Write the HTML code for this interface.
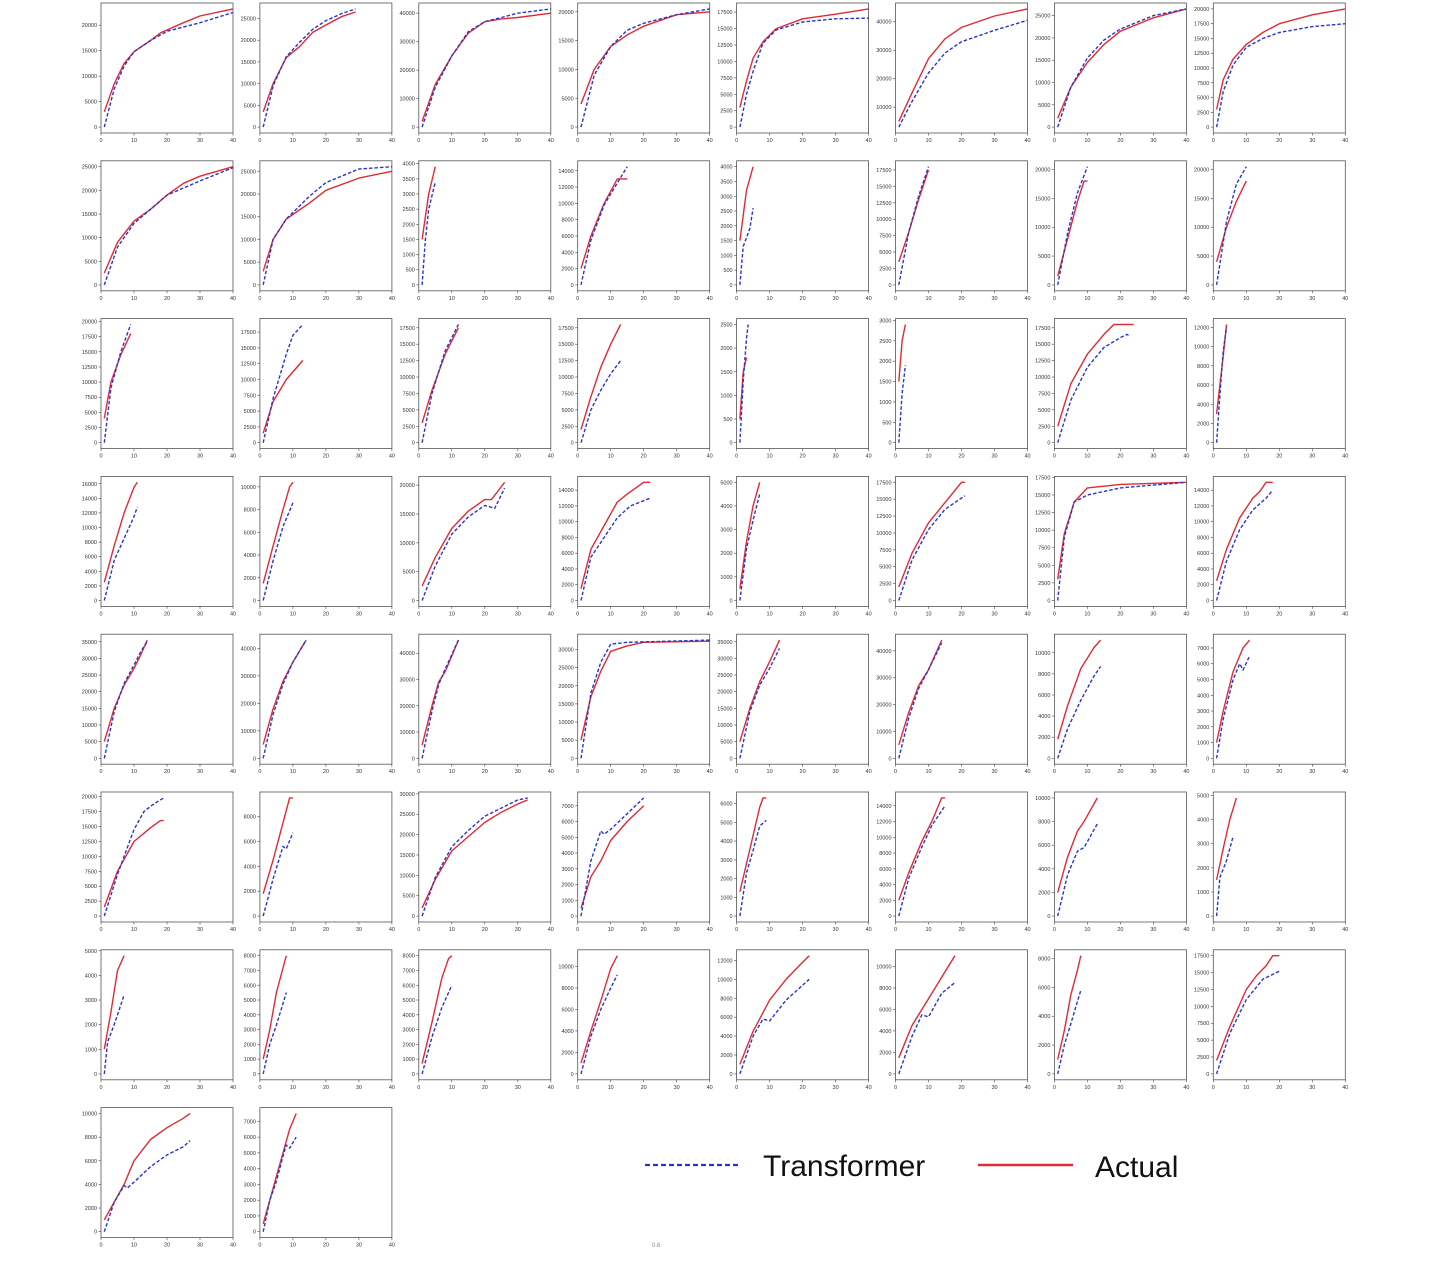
<!DOCTYPE html>
<html><head><meta charset="utf-8"><style>
body{margin:0;background:#fff;}
svg{display:block;font-family:"Liberation Sans",sans-serif;}
</style></head><body>
<svg id="chart" width="1430" height="1280" viewBox="0 0 1430 1280" xmlns="http://www.w3.org/2000/svg">
<g id="plots"></g>
<g>
  <line x1="645" y1="1165" x2="740" y2="1165" stroke="#2a35c8" stroke-width="2.2" stroke-dasharray="5,3"/>
  <text x="763" y="1176" font-size="30" fill="#111">Transformer</text>
  <line x1="978" y1="1165" x2="1073" y2="1165" stroke="#e02a35" stroke-width="2.6"/>
  <text x="1095" y="1177" font-size="30" fill="#111">Actual</text>
  <text x="652" y="1247" font-size="6" fill="#888">0.6</text>
</g>
</svg>
<script>
const xTicks = [0,10,20,30,40];
const yTickStep = [5000,5000,10000,5000,2500,10000,5000,2500,
 5000,5000,500,2000,500,2500,5000,5000,
 2500,2500,2500,2500,500,500,2500,2000,
 2000,2000,5000,2000,1000,2500,2500,2000,
 5000,10000,10000,5000,5000,10000,2000,1000,
 2500,2000,5000,1000,1000,2000,2000,1000,
 1000,1000,1000,2000,2000,2000,2000,2500,
 2000,1000];
const actualSeries = [
[[1,3000],[4,8500],[7,12500],[10,14800],[15,17000],[18,18500],[25,20500],[30,21800],[40,23200]],
[[1,3500],[4,10000],[8,16000],[12,18500],[16,21800],[20,23500],[25,25500],[29,26500]],
[[1,2000],[5,15000],[10,25000],[15,33000],[20,37000],[25,38000],[30,38500],[40,40000]],
[[1,4000],[5,10000],[10,14000],[15,16000],[20,17500],[30,19500],[40,20000]],
[[1,3000],[3,7000],[5,10500],[8,13000],[12,15000],[20,16500],[30,17200],[40,18000]],
[[1,5000],[5,15000],[10,27000],[15,34000],[20,38000],[30,42000],[40,44500]],
[[1,2000],[5,9000],[10,14500],[15,18500],[20,21500],[30,24500],[40,26500]],
[[1,3000],[3,8000],[6,11500],[10,14000],[15,16000],[20,17500],[30,19000],[40,20000]],
[[1,2500],[5,9000],[10,13500],[15,16000],[20,19000],[25,21500],[30,23000],[40,25000]],
[[1,3000],[4,10000],[8,14500],[15,18000],[20,20800],[30,23500],[40,25000]],
[[1,1500],[3,3000],[5,3900]],
[[1,2000],[4,6000],[8,10000],[12,13000],[15,13000]],
[[1,1500],[3,3200],[5,4000]],
[[1,3500],[4,8000],[7,13000],[10,17500]],
[[1,1500],[4,8000],[7,14500],[9,18000],[10,18000]],
[[1,4000],[4,10000],[7,14500],[10,18000]],
[[1,4000],[3,10000],[6,14500],[9,18000]],
[[1,1500],[4,6500],[8,10000],[13,13000]],
[[1,3000],[4,8000],[8,13500],[12,17500]],
[[1,2000],[4,7000],[7,11500],[10,15000],[13,18000]],
[[1,500],[2,1500],[3,1800]],
[[1,1500],[2,2500],[3,2900]],
[[1,2500],[5,9000],[10,13500],[15,16500],[18,18000],[24,18000]],
[[1,3000],[3,9000],[4,12300]],
[[1,2500],[4,7500],[7,12000],[10,15500],[11,16200]],
[[1,1500],[4,4800],[7,8000],[9,10000],[10,10400]],
[[1,2500],[5,7500],[10,12500],[15,15500],[20,17500],[22,17500],[24,19000],[26,20500]],
[[1,1500],[4,6500],[8,9500],[12,12500],[15,13500],[20,15000],[22,15000]],
[[1,500],[3,2500],[5,4000],[7,5000]],
[[1,2000],[5,7000],[10,11500],[15,14500],[20,17500],[21,17500]],
[[1,3000],[3,9500],[6,14000],[10,16000],[20,16500],[40,16800]],
[[1,2500],[4,6500],[8,10500],[12,13000],[14,13800],[16,15000],[18,15000]],
[[1,5000],[4,15000],[7,22000],[10,27000],[12,31000],[14,35500]],
[[1,5000],[4,18000],[7,28000],[10,35000],[14,43000]],
[[1,5000],[4,20000],[6,29000],[8,33000],[12,45000]],
[[1,5000],[4,17000],[7,24000],[10,29500],[15,31000],[20,32000],[40,32300]],
[[1,5000],[4,15000],[7,23000],[10,29000],[13,35500]],
[[1,5000],[4,17000],[7,27000],[10,33000],[14,44000]],
[[1,1800],[4,5000],[8,8500],[12,10500],[14,11200]],
[[1,1000],[3,3000],[6,5500],[9,7000],[11,7500]],
[[1,1500],[5,7500],[10,12500],[15,14800],[18,16000],[19,16000]],
[[1,1800],[4,4500],[7,7500],[9,9500],[10,9500]],
[[1,2000],[5,9000],[10,16000],[15,19500],[20,23000],[25,25500],[30,27500],[33,28500]],
[[1,500],[4,2500],[7,3500],[10,4800],[15,6000],[20,7000]],
[[1,1300],[3,2800],[5,4300],[7,5800],[8,6300],[9,6300]],
[[1,2000],[4,5500],[8,9500],[11,12000],[14,15000],[15,15000]],
[[1,2000],[4,5000],[7,7200],[9,8000],[11,9000],[13,10000]],
[[1,1500],[3,2800],[5,4000],[7,4900]],
[[1,1000],[3,2500],[5,4200],[7,4800]],
[[1,1000],[3,3000],[5,5500],[8,8000]],
[[1,700],[4,3500],[7,6500],[9,7800],[10,8000]],
[[1,1000],[4,4000],[7,6800],[10,9800],[12,11000]],
[[1,1000],[5,4500],[10,7800],[15,10000],[20,11800],[22,12500]],
[[1,1500],[5,4500],[10,7000],[15,9500],[18,11000]],
[[1,1000],[3,3000],[5,5500],[7,7200],[8,8200]],
[[1,2000],[5,7000],[10,12500],[13,14500],[16,16000],[18,17500],[20,17500]],
[[1,1000],[4,2500],[7,4000],[10,6000],[15,7800],[20,8800],[25,9600],[27,10000]],
[[1,500],[3,2000],[5,3500],[7,5000],[9,6500],[11,7500]]
];
const transformerSeries = [
[[1,0],[4,7500],[7,12000],[10,14800],[15,17000],[20,18800],[30,20500],[40,22500]],
[[1,0],[4,9500],[8,16200],[12,19500],[16,22500],[20,24500],[25,26200],[29,27200]],
[[1,0],[5,14000],[10,25000],[15,33500],[20,37000],[25,38500],[30,40000],[40,41500]],
[[1,0],[5,9000],[10,14000],[15,16800],[20,18000],[30,19500],[40,20500]],
[[1,0],[3,5000],[5,8500],[8,12800],[12,14800],[20,16000],[30,16500],[40,16600]],
[[1,3000],[5,12000],[10,22000],[15,29000],[20,33000],[30,37000],[40,40500]],
[[1,0],[5,9000],[10,15500],[15,19500],[20,22000],[30,25000],[40,26500]],
[[1,0],[3,6000],[6,10500],[10,13500],[15,15000],[20,16000],[30,17000],[40,17500]],
[[1,0],[5,8000],[10,13000],[15,16000],[20,19000],[30,22000],[40,24800]],
[[1,0],[4,10000],[8,14500],[15,19500],[20,22500],[30,25500],[40,26000]],
[[1,0],[2,1500],[3,2500],[5,3400]],
[[1,0],[4,5500],[8,9800],[12,12500],[15,14500]],
[[1,0],[2,1300],[4,1900],[5,2600]],
[[1,0],[4,8000],[7,13500],[10,18000]],
[[1,0],[4,9000],[7,16000],[10,20500]],
[[1,0],[4,11000],[7,17500],[10,20500]],
[[1,0],[3,9000],[6,15000],[9,19500]],
[[1,0],[4,7000],[8,14000],[10,17000],[13,18700]],
[[1,0],[4,7500],[8,14000],[12,18000]],
[[1,0],[4,5000],[7,8000],[10,10500],[13,12500]],
[[1,0],[2,1300],[3,2200],[3.5,2500]],
[[1,0],[2,1200],[3,1900]],
[[1,0],[5,6500],[10,11500],[15,14500],[20,16000],[22,16500],[23,16200]],
[[1,0],[2,5000],[3,9500],[4,12000]],
[[1,0],[4,5500],[7,8500],[10,11500],[11,12800]],
[[1,0],[4,3500],[7,6500],[10,8600]],
[[1,0],[5,6000],[10,11500],[15,14500],[20,16500],[23,16000],[26,19500]],
[[1,0],[4,5500],[8,8000],[12,10500],[16,12000],[22,13000]],
[[1,0],[3,2200],[5,3400],[7,4500]],
[[1,0],[5,6000],[10,10500],[15,13500],[21,15500]],
[[1,0],[3,9000],[6,14000],[10,15000],[20,16000],[40,16800]],
[[1,0],[4,5000],[8,9000],[12,11500],[16,13000],[18,14000]],
[[1,0],[4,14000],[7,22500],[10,28000],[12,32000],[14,35000]],
[[1,0],[4,16000],[7,27000],[10,35000],[14,43000]],
[[1,0],[4,18000],[6,28000],[8,34000],[12,45000]],
[[1,0],[4,18000],[7,26500],[10,31500],[15,32000],[40,32600]],
[[1,0],[4,14000],[7,22000],[10,27000],[13,33000]],
[[1,0],[4,15000],[7,26000],[10,33000],[14,43000]],
[[1,0],[4,2800],[8,5500],[12,7800],[14,8700]],
[[1,0],[3,2500],[6,5000],[8,6000],[9,5600],[11,6500]],
[[1,0],[5,7000],[10,14500],[13,17500],[16,18800],[19,19800]],
[[1,0],[4,3000],[7,5600],[8,5400],[10,6700]],
[[1,0],[5,9500],[10,17000],[15,21000],[20,24500],[25,26500],[30,28500],[33,29000]],
[[1,0],[4,3500],[7,5400],[8,5200],[10,5500],[15,6500],[20,7500]],
[[1,0],[3,2300],[5,3500],[7,4800],[9,5100]],
[[1,0],[4,4800],[8,8800],[11,11500],[15,14000]],
[[1,0],[4,3500],[7,5500],[9,5800],[11,6800],[13,7800]],
[[1,0],[2,1600],[4,2300],[6,3300]],
[[1,0],[2,1300],[4,2000],[7,3200]],
[[1,0],[3,2000],[5,3300],[8,5500]],
[[1,0],[4,2500],[7,4500],[10,6000]],
[[1,0],[4,3500],[7,6000],[10,8000],[12,9200]],
[[1,0],[5,4000],[8,5800],[10,5600],[15,7800],[22,10000]],
[[1,0],[5,3500],[8,5500],[10,5300],[14,7500],[18,8500]],
[[1,0],[3,2000],[5,3500],[8,5800]],
[[1,0],[5,6000],[10,11000],[15,14000],[20,15200]],
[[1,0],[4,2500],[7,3900],[8,3700],[10,4200],[15,5500],[20,6500],[25,7200],[27,7700]],
[[1,0],[3,2000],[5,3200],[7,4800],[8,5500],[9,5300],[11,6000]]
];

const NS = "http://www.w3.org/2000/svg";
const root = document.getElementById('plots');
const W = 132, H = 130;
function mk(tag, attrs, parent){const e=document.createElementNS(NS,tag);for(const k in attrs)e.setAttribute(k,attrs[k]);parent.appendChild(e);return e;}

actualSeries.forEach((act, i) => {
  const tr = transformerSeries[i];
  const col = i % 8, row = Math.floor(i / 8);
  const x0 = 101 + col * 158.9, y0 = 3 + row * 157.8;
  const g = mk('g', {}, root);
  
  
  const all = act.concat(tr).map(p => p[1]);
  const lo = Math.min(...all), hi = Math.max(...all);
  const pad = (hi - lo) * 0.05;
  const yMin = lo - pad, yMax = hi + pad;
  const sx = v => x0 + v / 40 * W;
  const sy = v => y0 + H - (v - yMin) / (yMax - yMin) * H;
  // box
  const box = mk('rect', {x:x0, y:y0, width:W, height:H, fill:'#fff', stroke:'#555', 'stroke-width':0.8}, g);
  
  
  // x ticks
  xTicks.forEach(t => {
    const X = sx(t);
    mk('line', {x1:X, y1:y0+H, x2:X, y2:y0+H+2.5, stroke:'#444', 'stroke-width':0.6}, g);
    const tx = mk('text', {x:X, y:y0+H+9, 'font-size':5.5, 'text-anchor':'middle', fill:'#333'}, g);
    
    
    tx.textContent = t;
  });
  // y ticks
  const step = yTickStep[i];
  for (let v = Math.ceil(yMin / step) * step; v <= yMax; v += step) {
    const Y = sy(v);
    mk('line', {x1:x0-2.5, y1:Y, x2:x0, y2:Y, stroke:'#444', 'stroke-width':0.6}, g);
    const ty = mk('text', {x:x0-4, y:Y+2, 'font-size':5.5, 'text-anchor':'end', fill:'#333'}, g);
    
    
    ty.textContent = v;
  }
  const aLine = mk('polyline', {points: act.map(p => sx(p[0]).toFixed(1)+','+sy(p[1]).toFixed(1)).join(' '), fill:'none', stroke:'#e02a35', 'stroke-width':1.4, 'stroke-linejoin':'round'}, g);
  
  
  const tLine = mk('polyline', {points: tr.map(p => sx(p[0]).toFixed(1)+','+sy(p[1]).toFixed(1)).join(' '), fill:'none', stroke:'#2a35c8', 'stroke-width':1.4, 'stroke-dasharray':'3.5,2', 'stroke-linejoin':'round'}, g);
  
  
});
</script>
</body></html>
